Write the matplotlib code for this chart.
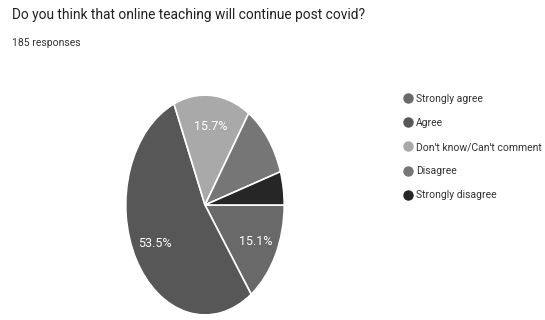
import matplotlib.pyplot as plt
from matplotlib.lines import Line2D

# survey answers (percent of 185 responses)
labels = ["Strongly agree", "Agree", "Don't know/Can't comment", "Disagree", "Strongly disagree"]
shares = [15.1, 53.5, 15.7, 10.8, 4.9]
colors = ["#696969", "#575757", "#a9a9a9", "#767676", "#262626"]

plt.rcParams['font.family'] = ['Roboto', 'DejaVu Sans']

W, H = 545, 320
fig = plt.figure(figsize=(W / 100, H / 100), dpi=100)

# pie is drawn stretched vertically, centred at (205, 205) px
cx, cy, rx, ry = 205, 205, 80, 111
ax = fig.add_axes([(cx - rx) / W, (H - cy - ry) / H, 2 * rx / W, 2 * ry / H])
wedges, _, autotexts = ax.pie(
    shares, colors=colors, startangle=0, counterclock=False,
    autopct=lambda p: f"{p:.1f}%" if p > 12 else "", pctdistance=0.72,
    wedgeprops=dict(edgecolor="white", linewidth=1.2),
    textprops=dict(color="white", fontsize=9))
ax.set_aspect('auto')
ax.set_xlim(-1.01, 1.01)
ax.set_ylim(-1.01, 1.01)

# title block
fig.text(12 / W, 1 - 15 / H, "Do you think that online teaching will continue post covid?",
         fontsize=9.9, color="#222222", va="center", ha="left")
fig.text(12 / W, 1 - 43 / H, "185 responses", fontsize=7.5, color="#333333", va="center", ha="left")

# legend on the right
handles = [Line2D([], [], marker='o', linestyle='', markersize=6.5, color=c) for c in colors]
fig.legend(handles, labels, loc='upper left', bbox_to_anchor=(403 / W, 1 - 94 / H),
           frameon=False, fontsize=7.5, handletextpad=0.25, handlelength=1.0,
           labelspacing=1.35, borderpad=0, labelcolor="#333333", borderaxespad=0)

fig.savefig("out.png", dpi=100, facecolor="white")
